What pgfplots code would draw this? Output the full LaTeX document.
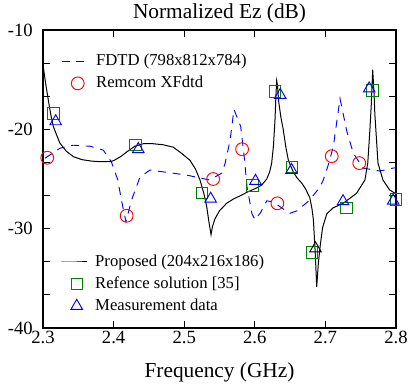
\documentclass[border=0pt]{standalone}
\usepackage{pgfplots}
\pgfplotsset{compat=1.18}
\usepackage{fontspec}
\setmainfont{Liberation Serif}
\definecolor{mgreen}{RGB}{0,128,0}

\pgfplotsset{
  common/.style={
    width=264.75pt, height=223.5pt, scale only axis,
    xmin=2.3, xmax=2.8, ymin=-40, ymax=-10,
    at={(0,0)}, anchor=south west,
    legend image code/.code={\draw[mark repeat=2,mark phase=2,##1] plot coordinates {(0cm,0cm) (0.42cm,0cm) (0.7cm,0cm)};},
    legend cell align=left,
    legend style={draw=none, fill=none, inner sep=0pt, outer sep=0pt, row sep=3pt,
      font=\fontsize{12.5}{15}\selectfont,
      nodes={inner ysep=1pt, inner xsep=5.5pt, text height=9pt, text depth=2.5pt}},
  },
}

\pgfplotstableread{
f db
2.3000 -13.5
2.3040 -15.5
2.3075 -17.05
2.3110 -18.5
2.3146 -19.7
2.3200 -20.7
2.3240 -21.4
2.3330 -22.2
2.3430 -22.75
2.3550 -23.05
2.3690 -23.2
2.3800 -23.25
2.3950 -23.25
2.4000 -23.15
2.4100 -22.75
2.4200 -22.2
2.4300 -21.7
2.4420 -21.45
2.4560 -21.45
2.4700 -21.55
2.4846 -21.8
2.4960 -22.4
2.5080 -23.1
2.5160 -24.0
2.5224 -25.1
2.5280 -26.5
2.5319 -27.8
2.5350 -29.3
2.5380 -30.6
2.5400 -29.8
2.5436 -29.0
2.5500 -28.2
2.5600 -27.45
2.5700 -27.0
2.5790 -26.7
2.5900 -26.3
2.6027 -25.9
2.6100 -25.6
2.6169 -25.0
2.6210 -24.3
2.6239 -23.4
2.6265 -21.6
2.6286 -19.06
2.6300 -16.5
2.6310 -15.1
2.6320 -15.5
2.6340 -17.3
2.6370 -18.8
2.6400 -19.9
2.6440 -21.8
2.6475 -23.1
2.6545 -24.3
2.6600 -24.9
2.6664 -25.4
2.6720 -26.0
2.6780 -26.9
2.6810 -28.0
2.6830 -29.1
2.6855 -32.3
2.6877 -35.85
2.6900 -33.5
2.6925 -31.8
2.6960 -29.9
2.7020 -28.5
2.7110 -27.9
2.7250 -27.45
2.7440 -26.45
2.7560 -25.1
2.7600 -23.4
2.7630 -20.1
2.7650 -17.5
2.7670 -14.0
2.7690 -16.5
2.7700 -18.4
2.7745 -23.4
2.7815 -25.1
2.7910 -26.1
2.8000 -26.5
}\proposed

\pgfplotstableread{
f db
2.3030 -22.9
2.3240 -21.9
2.3430 -21.6
2.3670 -21.7
2.3855 -22.1
2.3970 -23.3
2.4060 -25.1
2.4110 -27.1
2.4175 -29.3
2.4255 -27.1
2.4374 -24.8
2.4515 -24.1
2.5030 -24.6
2.5360 -25.1
2.5535 -24.4
2.5580 -23.4
2.5650 -21.1
2.5705 -18.0
2.5800 -19.7
2.5850 -22.75
2.5890 -25.8
2.5960 -28.5
2.6003 -29.1
2.6080 -28.4
2.6169 -27.2
2.6260 -27.3
2.6400 -28.0
2.6500 -28.45
2.6600 -28.2
2.6780 -27.1
2.6924 -25.8
2.6970 -25.1
2.7040 -23.6
2.7112 -21.75
2.7207 -16.9
2.7300 -20.1
2.7395 -22.4
2.7535 -23.9
2.7773 -24.2
2.7960 -23.9
2.8000 -23.85
}\fdtd

\pgfplotstableread{
f db
2.306 -22.86
2.4185 -28.7
2.541 -25.0
2.582 -22.0
2.632 -27.45
2.709 -22.7
2.748 -23.4
}\remcom

\pgfplotstableread{
f db
2.3146 -18.4
2.431 -21.6
2.5252 -26.4
2.597 -25.65
2.6286 -16.2
2.653 -23.8
2.6806 -32.4
2.730 -27.9
2.767 -16.1
2.800 -27.05
}\refsol

\pgfplotstableread{
f db
2.318 -19.2
2.435 -22.0
2.5375 -27.0
2.601 -25.2
2.636 -16.55
2.652 -24.1
2.725 -27.25
2.762 -15.9
2.796 -27.2
}\meas

\pgfplotstableread{
f db
2.686 -32.0
}\measblack

\begin{document}
\begin{tikzpicture}
\begin{axis}[common,
  title={Normalized Ez (dB)},
  title style={font=\fontsize{16}{19}\selectfont, at={(0.5,1)}, anchor=base, yshift=2.6pt},
  xlabel={Frequency (GHz)},
  xlabel style={font=\fontsize{16}{19}\selectfont, at={(0.5,0)}, anchor=base, yshift=-37.3pt},
  xtick={2.3,2.4,...,2.8},
  xticklabels={2.3,2.4,2.5,2.6,2.7,2.8},
  ytick={-40,-30,-20,-10},
  yticklabels={-40,-30,-20,-10},
  minor y tick num=2,
  tick align=inside,
  major tick length=5.5pt, minor tick length=5.5pt,
  tick style={black, line width=0.6pt},
  axis line style={line width=0.8pt},
  ticklabel style={font=\fontsize{14}{17}\selectfont},
  xticklabel style={anchor=base, yshift=-11.5pt},
  yticklabel style={anchor=east, inner sep=0pt, xshift=-7.5pt},
  legend style={at={(0.049,0.2517)}, anchor=north west},
]
\addplot[blue, line width=0.7pt, dash pattern=on 6pt off 5pt, forget plot] table[x=f,y=db] {\fdtd};
\addplot[only marks, mark=o, mark size=4.8pt, red, mark options={line width=0.7pt}, forget plot] table[x=f,y=db] {\remcom};
\addplot[black, line width=0.75pt] table[x=f,y=db] {\proposed};
\addlegendentry{Proposed (204x216x186)}
\addplot[only marks, mark=square, mark size=4.3pt, mgreen, mark options={line width=0.7pt}] table[x=f,y=db] {\refsol};
\addlegendentry{Refence solution [35]}
\addplot[only marks, mark=triangle, mark size=5pt, blue, mark options={line width=0.7pt}] table[x=f,y=db] {\meas};
\addlegendentry{Measurement data}
\addplot[only marks, mark=triangle, mark size=5pt, black, mark options={line width=0.7pt}, forget plot] table[x=f,y=db] {\measblack};
\end{axis}
\begin{axis}[common, hide axis,
  legend style={at={(0.052,0.925)}, anchor=north west},
]
\addlegendimage{blue, line width=0.7pt, dash pattern=on 6pt off 5pt}
\addlegendentry{FDTD (798x812x784)}
\addlegendimage{only marks, mark=o, mark size=4.8pt, red, mark options={line width=0.7pt}}
\addlegendentry{Remcom XFdtd}
\end{axis}
\pgfresetboundingbox
\path (-32.25pt,-46.5pt) rectangle (273.75pt,246pt);
\end{tikzpicture}
\end{document}
